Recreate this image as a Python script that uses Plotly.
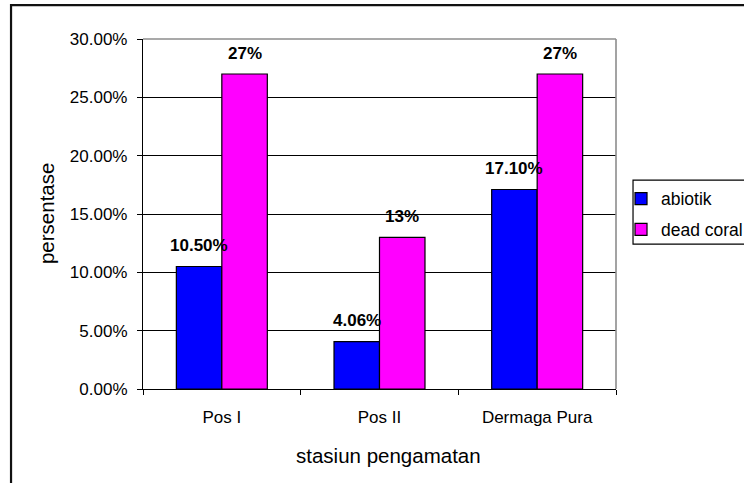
import plotly.graph_objects as go

# Station data: share of abiotic substrate and dead coral per station
stations = ["Pos I", "Pos II", "Dermaga Pura"]
abiotik = [0.105, 0.0406, 0.171]
dead_coral = [0.27, 0.13, 0.27]
abiotik_labels = ["10.50%", "4.06%", "17.10%"]
dead_coral_labels = ["27%", "13%", "27%"]

FONT = "Liberation Sans, Arial, sans-serif"
BARGAP = 0.423

fig = go.Figure()
fig.add_trace(go.Bar(
    name="abiotik", x=stations, y=abiotik, legendgroup="a",
    marker=dict(color="#0000FF", line=dict(color="black", width=1.2)),
))
fig.add_trace(go.Bar(
    name="dead coral", x=stations, y=dead_coral, legendgroup="b",
    marker=dict(color="#FF00FF", line=dict(color="black", width=1.2)),
))

# Bold value labels centred above each bar of the grouped pair
half = (1 - BARGAP) / 4
annotations = []
for i in range(len(stations)):
    for off, vals, labs in ((-half, abiotik, abiotik_labels), (half, dead_coral, dead_coral_labels)):
        annotations.append(dict(
            x=i + off, y=vals[i], xref="x", yref="y", text=f"<b>{labs[i]}</b>",
            showarrow=False, yshift=21, yanchor="middle", xanchor="center",
            font=dict(family=FONT, size=17, color="black"),
        ))

# Axis titles
annotations.append(dict(
    x=0.52, y=-0.19, xref="paper", yref="paper", text="stasiun pengamatan",
    showarrow=False, xanchor="center", yanchor="middle",
    font=dict(family=FONT, size=20.5, color="black"),
))
annotations.append(dict(
    x=-0.205, y=0.5, xref="paper", yref="paper", text="persentase", textangle=-90,
    showarrow=False, xanchor="center", yanchor="middle",
    font=dict(family=FONT, size=20.5, color="black"),
))

shapes = [
    # outer chart frame
    dict(type="rect", xref="paper", yref="paper", x0=-0.279, x1=1.5, y0=-0.6, y1=1.097,
         line=dict(color="#111111", width=2.2), layer="below"),
    # grey top and right edges of the plot area
    dict(type="line", xref="paper", yref="paper", x0=0, x1=1, y0=1, y1=1,
         line=dict(color="#8c8c8c", width=1.6), layer="above"),
    dict(type="line", xref="paper", yref="paper", x0=1, x1=1, y0=0, y1=1,
         line=dict(color="#8c8c8c", width=1.6), layer="above"),
    # legend frame
    dict(type="rect", xref="paper", yref="paper", x0=1.036, x1=1.4, y0=0.414, y1=0.597,
         line=dict(color="black", width=1.2), layer="below"),
]

fig.update_layout(
    width=744, height=483,
    margin=dict(l=143, r=128, t=39, b=94, autoexpand=False),
    paper_bgcolor="white", plot_bgcolor="white",
    barmode="group", bargap=BARGAP, bargroupgap=0,
    font=dict(family=FONT, size=17, color="black"),
    annotations=annotations, shapes=shapes,
    legend=dict(
        x=1.0106, y=0.595, xanchor="left", yanchor="top",
        borderwidth=0, bgcolor="rgba(0,0,0,0)",
        font=dict(family=FONT, size=17.5, color="black"),
        traceorder="grouped", tracegroupgap=5,
    ),
    showlegend=True,
)
fig.update_yaxes(
    range=[0, 0.30], dtick=0.05, tickformat=".2%",
    showgrid=True, gridcolor="black", gridwidth=1,
    showline=True, linecolor="black", linewidth=1.2,
    ticks="outside", ticklen=5, tickcolor="black", tickwidth=1.2,
    ticklabelstandoff=6, zeroline=False,
    tickfont=dict(family=FONT, size=17, color="black"),
)
fig.update_xaxes(
    type="category", tickson="boundaries",
    showgrid=False, showline=True, linecolor="black", linewidth=1.2,
    ticks="outside", ticklen=5, tickcolor="black", tickwidth=1.2,
    ticklabelstandoff=12,
    tickfont=dict(family=FONT, size=17, color="black"),
)

fig.write_html("out.html")
